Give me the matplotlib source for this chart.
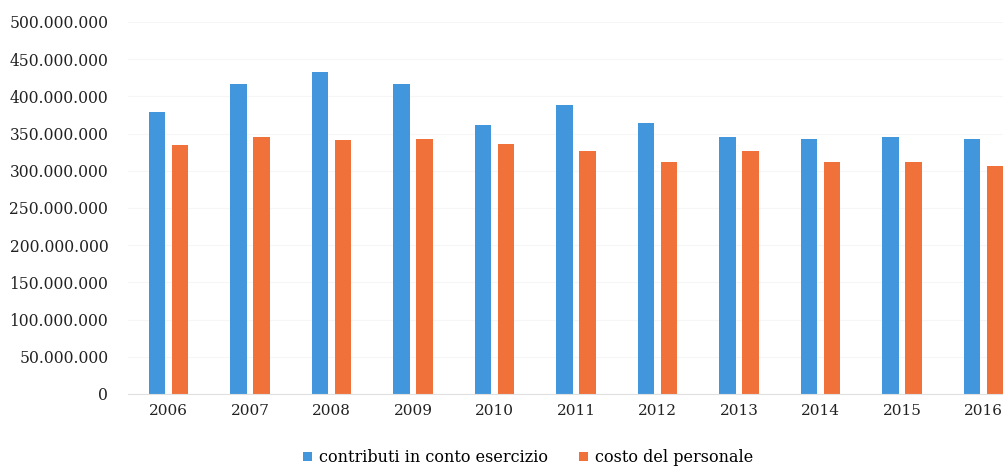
import matplotlib.pyplot as plt
import numpy as np

years = ['2006', '2007', '2008', '2009', '2010', '2011', '2012', '2013', '2014', '2015', '2016']
contributi = [379e6, 416e6, 433e6, 417e6, 362e6, 388e6, 364e6, 345e6, 343e6, 345e6, 343e6]
personale = [335e6, 345e6, 341e6, 342e6, 336e6, 326e6, 312e6, 327e6, 312e6, 312e6, 306e6]

plt.rcParams['font.family'] = ['DejaVu Serif']

fig = plt.figure(figsize=(10.04, 4.71), dpi=100)
ax = fig.add_axes([0.1272, 0.1635, 0.893, 0.79])

x = np.arange(len(years))
w = 0.205
ax.bar(x - 0.14, contributi, w, color='#4297dc', label='contributi in conto esercizio')
ax.bar(x + 0.14, personale, w, color='#f0713a', label='costo del personale')

ax.set_xlim(-0.5, len(years) - 0.5)
ax.set_ylim(0, 500e6)
ax.set_yticks(np.arange(0, 500e6 + 1, 50e6))
ax.yaxis.set_major_formatter(plt.FuncFormatter(lambda v, p: f'{int(v):,}'.replace(',', '.')))
ax.set_xticks(x)
ax.set_xticklabels(years)
ax.tick_params(axis='both', length=0, colors='#222222')
ax.tick_params(axis='y', pad=14, labelsize=11.2)
ax.tick_params(axis='x', pad=7, labelsize=11)

for s in ['top', 'right', 'left']:
    ax.spines[s].set_visible(False)
ax.spines['bottom'].set_color('#e0e0e0')
ax.grid(axis='y', color='#f6f6f6', linewidth=0.8)
ax.set_axisbelow(True)

fig.legend(loc='center', bbox_to_anchor=(0.526, 0.028), ncol=2, frameon=False,
           fontsize=11.5, handlelength=0.55, handleheight=0.55, handletextpad=0.4,
           columnspacing=2.0)

plt.savefig('out.png', dpi=100)
